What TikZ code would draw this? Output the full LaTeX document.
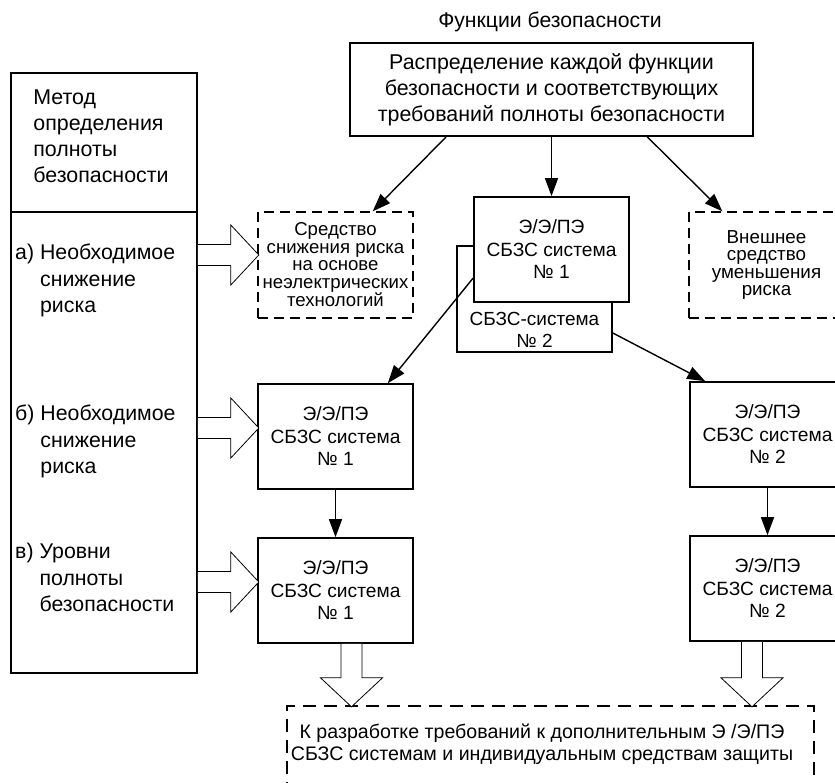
\documentclass[tikz,border=0pt]{standalone}
\usepackage{fontspec}
\setmainfont{Liberation Sans}
\usetikzlibrary{arrows.meta,calc}
\tikzset{
  box/.style={draw, line width=1.6pt, minimum width=155pt, minimum height=105pt, inner sep=0pt, align=center, fill=white, font=\fontsize{19.2}{22.5}\selectfont},
  dbox/.style={draw, dash pattern=on 10pt off 6pt, line width=1.3pt, minimum width=155pt, minimum height=106pt, inner sep=0pt, align=center, font=\fontsize{18.6}{17.5}\selectfont},
  bigtext/.style={inner sep=0pt, font=\fontsize{21.4}{26}\selectfont},
  itemtext/.style={inner sep=0pt, font=\fontsize{21.3}{26.5}\selectfont},
  midtext/.style={inner sep=0pt, align=center, font=\fontsize{19}{22.5}\selectfont},
  arr/.style={line width=1.4pt, -{Triangle[length=18pt,width=13pt]}},
  hollow/.style={line width=0.8pt, fill=white, line join=miter},
}
\newcommand\hollowarrowR[1]{\draw[hollow] (#1) ++(0,-10.5) -- ++(33,0) -- ++(0,-19.5) -- ++(28,30) -- ++(-28,30) -- ++(0,-19.5) -- ++(-33,0);}
\newcommand\hollowarrowD[2]{\draw[hollow] (#1) ++(-10.5,0) -- ++(0,#2) -- ++(-20.5,0) -- ++(31,29) -- ++(31,-29) -- ++(-20.5,0) -- ++(0,-#2);}
\newcommand\itemblock[4]{\begin{tabular}{@{}l@{\hspace{6pt}}l@{}}#1 & #2\\ & #3\\ & #4\end{tabular}}
\begin{document}
\begin{tikzpicture}[x=1pt,y=-1pt]
\useasboundingbox (0,0) rectangle (835,783);
\clip (0,0) rectangle (835,783);
% title and top box
\node[midtext, font=\fontsize{21.2}{24}\selectfont] (title) at (550,22) {Функции безопасности};
\node[box, bigtext, minimum width=403pt, minimum height=93pt, align=center] (T) at (551.5,89.5)
  {Распределение каждой функции\\безопасности и соответствующих\\требований полноты безопасности};
% left column
\node[draw, line width=1.6pt, minimum width=186pt, minimum height=139pt, inner sep=0pt] (LH) at (104,142.5) {};
\node[bigtext, align=left] (LHt) at (101,136) {Метод\\определения\\полноты\\безопасности};
\node[draw, line width=1.6pt, minimum width=186pt, minimum height=461pt, inner sep=0pt] (LB) at (104,442.5) {};
\node[itemtext, anchor=north west] (ia) at (15,241) {\itemblock{а)}{Необходимое}{снижение}{риска}};
\node[itemtext, anchor=north west] (ib) at (15,402) {\itemblock{б)}{Необходимое}{снижение}{риска}};
\node[itemtext, anchor=north west] (iv) at (15,540) {\itemblock{в)}{Уровни}{полноты}{безопасности}};
% second row
\node[dbox] (D1) at (335.5,265) {Средство\\снижения риска\\на основе\\неэлектрических\\технологий};
\node[dbox, font=\fontsize{18.8}{17.3}\selectfont] (D2) at (766.5,265) {Внешнее\\средство\\уменьшения\\риска};
\node[draw, line width=1.6pt, minimum width=155pt, minimum height=106pt, inner sep=0pt] (F2) at (534.5,299) {};
\node[midtext] (F2t) at (534.5,330) {СБЗС-система\\№ 2};
\node[box] (F1) at (551.5,249.5) {Э/Э/ПЭ\\СБЗС система\\№ 1};
% third and fourth rows
\node[box] (Bb) at (335.5,436.5) {Э/Э/ПЭ\\СБЗС система\\№ 1};
\node[box] (Bv) at (335.5,590.5) {Э/Э/ПЭ\\СБЗС система\\№ 1};
\node[box] (R1) at (767.5,434.5) {Э/Э/ПЭ\\СБЗС система\\№ 2};
\node[box] (R2) at (767.5,588.5) {Э/Э/ПЭ\\СБЗС система\\№ 2};
% bottom box
\node[draw, dash pattern=on 13pt off 8pt, line width=2.6pt, minimum width=527pt, minimum height=88pt, inner sep=0pt] (Bot) at (550.5,750) {};
\node[midtext, font=\fontsize{19.6}{22}\selectfont] (Bott) at (542,744) {К разработке требований к дополнительным Э /Э/ПЭ\\СБЗС системам и индивидуальным средствам защиты};
% arrows
\draw[arr] ($(T.south west)+(97,0)$) -- ($(D1.north east)+(-41,0)$);
\draw[arr] (T.south) -- (F1.north);
\draw[arr] ($(T.south west)+(298,0)$) -- ($(D2.north west)+(34,0)$);
\draw[arr] ($(F1.west)+(0,28.5)$) -- ($(Bb.north east)+(-26,0)$);
\draw[arr] ($(F2.east)+(0,34)$) -- ($(R1.north west)+(16,0)$);
\draw[arr] (Bb.south) -- (Bv.north);
\draw[arr] (R1.south) -- (R2.north);
% hollow arrows
\coordinate (ta) at ($(D1.west)+(0,-10)$);
\coordinate (tb) at ($(Bb.west)+(0,-8.5)$);
\coordinate (tv) at ($(Bv.west)+(0,-8.5)$);
\hollowarrowR{LB.east |- ta}
\hollowarrowR{LB.east |- tb}
\hollowarrowR{LB.east |- tv}
\coordinate (sl) at ($(Bv.south)+(16,0)$);
\coordinate (sr) at ($(R2.south)+(-15.5,0)$);
\hollowarrowD{sl}{34}
\hollowarrowD{sr}{36}
\end{tikzpicture}
\end{document}
